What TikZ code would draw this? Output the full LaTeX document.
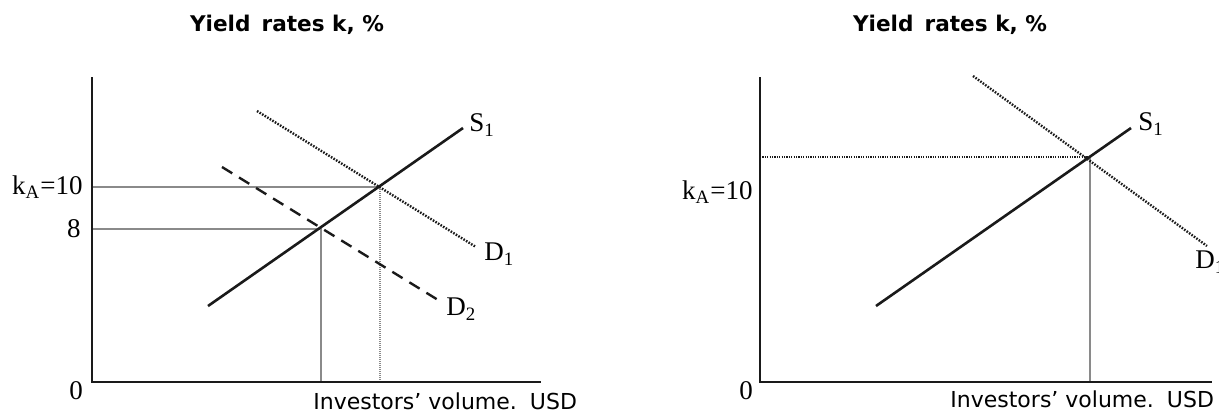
\documentclass[tikz,border=0pt]{standalone}
\usepackage{fontspec}
\setmainfont{Liberation Serif}
\setsansfont{DejaVu Sans}
\usetikzlibrary{positioning}
\definecolor{yrInk}{HTML}{1A1A1A}
\definecolor{yrGuide}{HTML}{8A8A8A}
\tikzset{
  yr/axis/.style={draw=yrInk, line width=1.1pt},
  yr/supply/.style={draw=yrInk, line width=1.3pt},
  yr/demand/.style={draw=yrInk, line width=1.2pt, dash pattern=on 0.8pt off 0.7pt},
  yr/shifted/.style={draw=yrInk, line width=1.2pt, dash pattern=on 6pt off 4pt},
  yr/guide/.style={draw=yrGuide, line width=0.55pt},
  yr/guidedot/.style={yr/guide, line width=0.8pt, dash pattern=on 0.5pt off 0.5pt},
  yr/level/.style={draw=yrInk, line width=0.55pt, dash pattern=on 0.6pt off 0.6pt},
  yr/title/.style={font=\sffamily\bfseries\fontsize{10.8}{12}\selectfont, inner sep=0pt},
  yr/qty/.style={font=\sffamily\fontsize{11}{13}\selectfont, anchor=west, inner sep=0pt},
  yr/tick/.style={font=\fontsize{13.5}{15}\selectfont, inner sep=0pt},
  yr/curve/.style={font=\fontsize{13.5}{15}\selectfont, inner sep=0pt, anchor=west},
}

\begin{document}
\begin{tikzpicture}[x=0.5pt, y=-0.5pt]
\useasboundingbox (0,0) rectangle (1219,414);

% left panel: demand falls from D1 to D2
\coordinate (oL) at (92,382);
\coordinate (topL) at (92,77);
\coordinate (endL) at (541,382);
\coordinate (aL) at (380,187);
\coordinate (bL) at (321,229);
\coordinate (s0L) at (208,306);
\coordinate (s1L) at (463,128);
\coordinate (d0L) at (257,111);
\coordinate (d1L) at (476,247);
\coordinate (e0L) at (222,167);
\coordinate (e1L) at (443,303);
\coordinate (kaAxL) at (92,187);
\coordinate (eightAxL) at (92,229);
\coordinate (aFootL) at (380,382);
\coordinate (bFootL) at (321,382);

\node[yr/title] (titleL) at (287,25) {Yield\, rates k, \%};
\node[yr/qty] (qtyL) at (313,401) {Investors’ volume.\, USD};
\node[yr/tick, anchor=east] (kaL) at (83,187) {k\textsubscript{A}=10};
\node[yr/tick, anchor=east] (eightL) at (81,229) {8};
\node[yr/tick] (zeroL) at (76,391) {0};
\node[yr/curve] (sL) at (469,125) {S\textsubscript{1}};
\node[yr/curve] (dL) at (484,254) {D\textsubscript{1}};
\node[yr/curve] (dTwoL) at (446,309) {D\textsubscript{2}};

\draw[yr/guide] (kaAxL) -- (aL);
\draw[yr/guide] (eightAxL) -- (bL) -- (bFootL);
\draw[yr/guidedot] (aL) -- (aFootL);
\draw[yr/axis] (topL) -- (oL) -- (endL);
\draw[yr/demand] (d0L) -- (d1L);
\draw[yr/shifted] (e0L) -- (e1L);
\draw[yr/supply] (s0L) -- (s1L);

% right panel: single equilibrium
\coordinate (oR) at (760,382);
\coordinate (topR) at (760,77);
\coordinate (endR) at (1212,382);
\coordinate (eR) at (1090,157);
\coordinate (s0R) at (876,306);
\coordinate (s1R) at (1131,128);
\coordinate (d0R) at (973,76);
\coordinate (d1R) at (1207,246);
\coordinate (levelR) at (760,157);
\coordinate (footR) at (1090,382);

\node[yr/title] (titleR) at (950,25) {Yield\, rates k, \%};
\node[yr/qty] (qtyR) at (950,399) {Investors’ volume.\, USD};
\node[yr/tick, anchor=east] (kaR) at (753,192) {k\textsubscript{A}=10};
\node[yr/tick] (zeroR) at (746,391) {0};
\node[yr/curve] (sR) at (1138,124) {S\textsubscript{1}};
\node[yr/curve] (dR) at (1195,262) {D\textsubscript{1}};

\draw[yr/level] (levelR) -- (eR);
\draw[yr/guide] (eR) -- (footR);
\draw[yr/axis] (topR) -- (oR) -- (endR);
\draw[yr/demand] (d0R) -- (d1R);
\draw[yr/supply] (s0R) -- (s1R);
\end{tikzpicture}
\end{document}
